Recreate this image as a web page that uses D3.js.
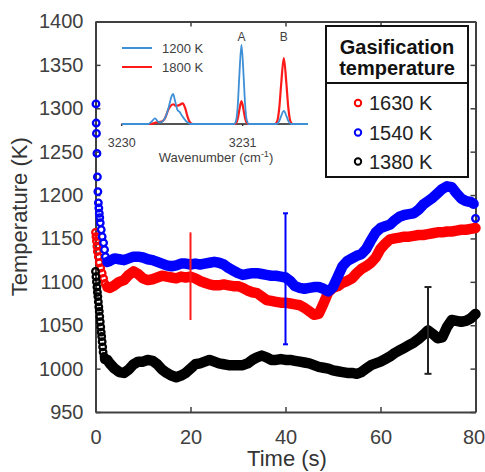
<!DOCTYPE html>
<html lang="en">
    <head>
        <meta charset="utf-8">
        <title>Gasification temperature</title>
        <script src="https://d3js.org/d3.v7.min.js"></script>
        <style type="text/css">
          body { margin: 0; background: #fff; }
          svg { width: 485px; height: 472px; display: block; }
          text { font-family: "Liberation Sans", Arial, sans-serif; }
          .tick text { font-size: 20px; fill: #404040; }
          .axis-title { font-size: 22px; fill: #333; }
          .inset-text { font-size: 12.5px; fill: #404040; }
          .legend-title { font-size: 20px; font-weight: bold; fill: #111; }
          .legend-text { font-size: 20px; fill: #222; }
        </style>
    </head>
    <body>
        <svg></svg>
        <script type="text/javascript">

// main chart data, [time (s), temperature (K)]
const temp1630 = [[0,1157],[0.1,1152],[0.2,1147],[0.3,1141],[0.4,1135],[0.6,1129],[0.8,1122],[1.1,1116],[1.4,1110],[1.7,1104],[2,1098],[2.5,1094],
  [3,1093],[4,1096],[5,1100],[6,1102],[7,1108],[8,1112],[9,1109],[10,1104],[11,1102],[12,1103],[13,1105],[14,1107],[15,1106],[16,1105],[17,1104],[18,1106],[19,1105],[20,1106],
  [21,1104],[22,1101],[23,1099],[24,1097],[25,1096],[26,1096],[27,1097],[28,1096],[29,1095],[30,1095],[31,1093],[32,1090],[33,1088],[34,1087],[35,1083],[36,1079],[37,1078],[38,1077],[39,1076],[40,1076],
  [41,1075],[42,1074],[43,1073],[44,1070],[45,1066],[46,1062],[47,1063],[48,1075],[49,1088],[50,1093],[51,1095],[52,1099],[53,1101],[54,1104],[55,1110],[56,1115],[57,1118],[58,1122],[59,1128],[60,1138],
  [61,1144],[62,1149],[63,1150],[64,1151],[65,1152],[66,1152],[67,1153],[68,1154],[69,1154],[70,1155],[71,1156],[72,1157],[73,1157],[74,1158],[75,1158],[76,1159],[77,1160],[78,1160],[79,1161],[80,1162]];

const temp1540 = [[0.1,1305],[0.15,1283],[0.2,1271],[0.3,1248],[0.4,1221],[0.5,1204],[0.6,1191],[0.7,1185],[0.8,1179],[0.9,1174],[1.0,1168],[1.2,1160],[1.4,1152],[1.7,1145],[1.9,1137],[2.1,1129],[2.5,1123],
  [3,1124],[4,1127],[5,1126],[6,1125],[7,1127],[8,1129],[9,1129],[10,1128],[11,1126],[12,1125],[13,1123],[14,1121],[15,1119],[16,1118],[17,1119],[18,1121],[19,1121],[20,1120],
  [21,1121],[22,1120],[23,1121],[24,1122],[25,1123],[26,1122],[27,1120],[28,1116],[29,1113],[30,1110],[31,1108],[32,1109],[33,1110],[34,1110],[35,1109],[36,1108],[37,1107],[38,1107],[39,1106],[40,1105],
  [41,1101],[42,1095],[43,1093],[44,1092],[45,1093],[46,1094],[47,1094],[48,1092],[49,1089],[50,1094],[51,1106],[52,1118],[53,1124],[54,1127],[55,1130],[56,1132],[57,1138],[58,1148],[59,1157],[60,1162],
  [61,1164],[62,1166],[63,1171],[64,1175],[65,1177],[66,1178],[67,1179],[68,1183],[69,1189],[70,1193],[71,1197],[72,1202],[73,1207],[74,1210],[75,1209],[76,1202],[77,1196],[78,1193],[79,1192],[79.6,1190],[80,1173]];

const temp1380 = [[0,1112],[0.1,1106],[0.2,1100],[0.3,1094],[0.4,1088],[0.5,1083],[0.6,1077],[0.7,1071],[0.8,1066],[0.9,1060],[1.0,1054],[1.1,1048],[1.2,1042],[1.3,1037],[1.4,1031],[1.5,1025],[1.6,1019],[1.8,1014],
  [2,1011],[2.5,1010],[3,1006],[4,1000],[5,996],[6,995],[7,999],[8,1005],[9,1008],[10,1008],[11,1010],[12,1009],[13,1005],[14,999],[15,995],[16,992],[17,990],[18,992],[19,995],[20,1000],
  [21,1005],[22,1006],[23,1008],[24,1010],[25,1008],[26,1006],[27,1005],[28,1004],[29,1004],[30,1004],[31,1004],[32,1006],[33,1010],[34,1013],[35,1015],[36,1013],[37,1010],[38,1010],[39,1011],[40,1010],
  [41,1010],[42,1009],[43,1008],[44,1007],[45,1006],[46,1004],[47,1002],[48,1001],[49,1000],[50,998],[51,997],[52,996],[53,995],[54,995],[55,994],[56,996],[57,1000],[58,1004],[59,1006],[60,1008],
  [61,1011],[62,1014],[63,1018],[64,1021],[65,1024],[66,1027],[67,1030],[68,1034],[69,1039],[70,1044],[71,1040],[72,1035],[73,1036],[74,1048],[75,1056],[76,1055],[77,1054],[78,1055],[79,1058],[80,1063]];

const legendLabels = ["1630 K", "1540 K", "1380 K"];

// error bars: time, mean, half range
const errTime = [20, 40, 70];
const errMean = [1106.5, 1103.5, 1044];
const errHalf = [50.5, 75.5, 50];

const xTicks = [0, 20, 40, 60, 80];
const yTicks = [950, 1000, 1050, 1100, 1150, 1200, 1250, 1300, 1350, 1400];

// inset spectra, [wavenumber, relative intensity]
const spec1200 = [[3230.00,0],[3230.22,0],[3230.25,0.035],[3230.275,0.072],[3230.30,0.03],[3230.32,0.02],[3230.36,0.08],[3230.39,0.22],[3230.412,0.35],[3230.425,0.38],
  [3230.44,0.3],[3230.46,0.18],[3230.48,0.15],[3230.50,0.1],[3230.53,0.04],[3230.57,0],[3230.93,0],[3230.945,0.04],[3230.96,0.25],[3230.972,0.6],[3230.99,1],
  [3231.008,0.6],[3231.02,0.25],[3231.035,0.04],[3231.05,0],[3231.28,0],[3231.303,0.04],[3231.318,0.1],[3231.34,0.165],[3231.362,0.1],[3231.377,0.04],[3231.40,0],[3231.54,0]];

const spec1800 = [[3230.00,0],[3230.24,0],[3230.29,0.02],[3230.33,0.03],[3230.357,0.07],[3230.385,0.18],[3230.40,0.22],[3230.425,0.25],[3230.45,0.23],[3230.47,0.235],
  [3230.505,0.26],[3230.525,0.2],[3230.545,0.09],[3230.565,0.02],[3230.59,0],[3230.93,0],[3230.945,0.012],[3230.96,0.073],[3230.972,0.174],[3230.99,0.29],
  [3231.008,0.174],[3231.02,0.073],[3231.035,0.012],[3231.05,0],[3231.265,0],[3231.285,0.033],[3231.303,0.21],[3231.318,0.5],[3231.34,0.835],[3231.362,0.5],
  [3231.377,0.21],[3231.395,0.033],[3231.415,0],[3231.54,0]];

const insetLabels = ["1200 K", "1800 K"];
const insetTicks = [3230, 3231];
const peakNames = ["A", "B"];
const peakPos = [3230.99, 3231.34];

const svg = d3.select("svg");
const axisColor = "#404040";

const x = d3.scaleLinear().domain([0, 80]).range([95.5, 475.5]);
const y = d3.scaleLinear().domain([950, 1400]).range([412, 21.5]);

// box axes, ticks pointing inward
function styleAxis(g) {
  g.select(".domain").attr("stroke", axisColor).attr("stroke-width", 2);
  g.selectAll(".tick line").attr("stroke", axisColor).attr("stroke-width", 1.5);
}
svg.append("g").attr("transform", "translate(0," + y(950) + ")")
   .call(d3.axisBottom(x).tickValues(xTicks).tickSize(-5).tickSizeOuter(0).tickPadding(18).tickFormat(d3.format("d")))
   .call(styleAxis);
svg.append("g").attr("transform", "translate(0," + y(1400) + ")")
   .call(d3.axisTop(x).tickValues(xTicks).tickSize(-5).tickSizeOuter(0).tickFormat(""))
   .call(styleAxis);
svg.append("g").attr("transform", "translate(" + x(0) + ",0)")
   .call(d3.axisLeft(y).tickValues(yTicks).tickSize(-5).tickSizeOuter(0).tickPadding(12).tickFormat(d3.format("d")))
   .call(styleAxis);
svg.append("g").attr("transform", "translate(" + x(80) + ",0)")
   .call(d3.axisRight(y).tickValues(yTicks).tickSize(-5).tickSizeOuter(0).tickFormat(""))
   .call(styleAxis);
svg.selectAll(".tick text").attr("font-family", null).attr("font-size", null).attr("fill", null);
// last x label sits at the right edge, nudge it in a little
svg.selectAll(".tick text").filter(d => d === 80).attr("dx", -2);

svg.append("text").attr("class", "axis-title")
   .attr("x", 287).attr("y", 466).attr("text-anchor", "middle").text("Time (s)");
svg.append("text").attr("class", "axis-title")
   .attr("transform", "translate(27," + ((y(950) + y(1400)) / 2) + ") rotate(-90)")
   .attr("text-anchor", "middle").text("Temperature (K)");

// inset spectra
const ix = d3.scaleLinear().domain([3230, 3231.54]).range([121.7, 308]);
const iy = d3.scaleLinear().domain([0, 1]).range([124, 45]);
const inset = svg.append("g");

inset.append("line")
     .attr("x1", ix(3230)).attr("x2", ix(3231.54)).attr("y1", iy(0)).attr("y2", iy(0))
     .attr("stroke", "#555").attr("stroke-width", 2);
inset.selectAll(".itick").data(insetTicks).enter().append("line")
     .attr("x1", d => ix(d)).attr("x2", d => ix(d)).attr("y1", iy(0)).attr("y2", iy(0) + 2)
     .attr("stroke", "#333").attr("stroke-width", 1.5);

const specLine = d3.line().x(d => ix(d[0])).y(d => iy(d[1])).curve(d3.curveMonotoneX);
inset.append("path").attr("d", specLine(spec1800))
     .attr("fill", "none").attr("stroke", "#ff1a1a").attr("stroke-width", 2.2);
inset.append("path").attr("d", specLine(spec1200))
     .attr("fill", "none").attr("stroke", "#3d8fd6").attr("stroke-width", 1.8);

inset.selectAll(".itext").data(insetTicks).enter().append("text")
     .attr("class", "inset-text")
     .attr("x", d => ix(d)).attr("y", 147).attr("text-anchor", "middle")
     .text(d => d);

const wn = inset.append("text").attr("class", "inset-text")
     .attr("x", 216).attr("y", 162).attr("text-anchor", "middle").style("font-size", "13px");
wn.append("tspan").text("Wavenumber (cm");
wn.append("tspan").attr("dy", -5).style("font-size", "9px").text("-1");
wn.append("tspan").attr("dy", 5).text(")");

inset.selectAll(".peak").data(peakNames).enter().append("text")
     .attr("class", "inset-text").style("font-size", "12px")
     .attr("x", (d, i) => ix(peakPos[i])).attr("y", 41).attr("text-anchor", "middle")
     .text(d => d);

const insetColors = ["#3d8fd6", "#ff1a1a"];
insetLabels.forEach((lab, i) => {
  const ly = 48 + i * 19;
  inset.append("line").attr("x1", 122).attr("x2", 152).attr("y1", ly).attr("y2", ly)
       .attr("stroke", insetColors[i]).attr("stroke-width", 2);
  inset.append("text").attr("class", "inset-text").style("font-size", "13px")
       .attr("x", 162).attr("y", ly + 4.5).text(lab);
});

// main series: thick band through the steady part plus hollow circle markers
const series = [
  {data: temp1630, color: "#ff0000", band: [2.4, 80]},
  {data: temp1540, color: "#0000ff", band: [2.4, 79.7]},
  {data: temp1380, color: "#000000", band: [1.9, 80]}
];

series.forEach(s => {
  const band = d3.line()
                 .defined(d => d[0] >= s.band[0] && d[0] <= s.band[1])
                 .x(d => x(d[0])).y(d => y(d[1]));
  svg.append("path").attr("d", band(s.data))
     .attr("fill", "none").attr("stroke", s.color).attr("stroke-width", 10.5)
     .attr("stroke-linejoin", "round").attr("stroke-linecap", "round");
  svg.append("g").selectAll("circle").data(s.data).enter().append("circle")
     .attr("cx", d => x(d[0])).attr("cy", d => y(d[1])).attr("r", 3.3)
     .attr("fill", "none").attr("stroke", s.color).attr("stroke-width", 2.3);
});

// error bars
const errColors = ["#ff1a1a", "#0000ff", "#222"];
const errCaps = [0, 2.5, 3.5];
errTime.forEach((t, i) => {
  const top = y(errMean[i] + errHalf[i]);
  const bot = y(errMean[i] - errHalf[i]);
  const g = svg.append("g").attr("stroke", errColors[i]).attr("stroke-width", 2);
  g.append("line").attr("x1", x(t)).attr("x2", x(t)).attr("y1", top).attr("y2", bot);
  if (errCaps[i] > 0) {
    [top, bot].forEach(cy => {
      g.append("line").attr("x1", x(t) - errCaps[i]).attr("x2", x(t) + errCaps[i])
       .attr("y1", cy).attr("y2", cy);
    });
  }
});

// legend box
const legend = svg.append("g");
legend.append("rect").attr("x", 326).attr("y", 26).attr("width", 142).attr("height", 151)
      .attr("fill", "#fff").attr("stroke", "#111").attr("stroke-width", 2);
legend.append("line").attr("x1", 326).attr("x2", 468).attr("y1", 83).attr("y2", 83)
      .attr("stroke", "#111").attr("stroke-width", 2);
legend.append("text").attr("class", "legend-title").attr("x", 397).attr("y", 54)
      .attr("text-anchor", "middle").text("Gasification");
legend.append("text").attr("class", "legend-title").attr("x", 397).attr("y", 75)
      .attr("text-anchor", "middle").text("temperature");
legendLabels.forEach((lab, i) => {
  const base = [110, 139.5, 168.5][i];
  legend.append("circle").attr("cx", 358).attr("cy", base - 7).attr("r", 3.2)
        .attr("fill", "none").attr("stroke", series[i].color).attr("stroke-width", 2);
  legend.append("text").attr("class", "legend-text").attr("x", 369).attr("y", base).text(lab);
});

        </script>
    </body>
</html>
